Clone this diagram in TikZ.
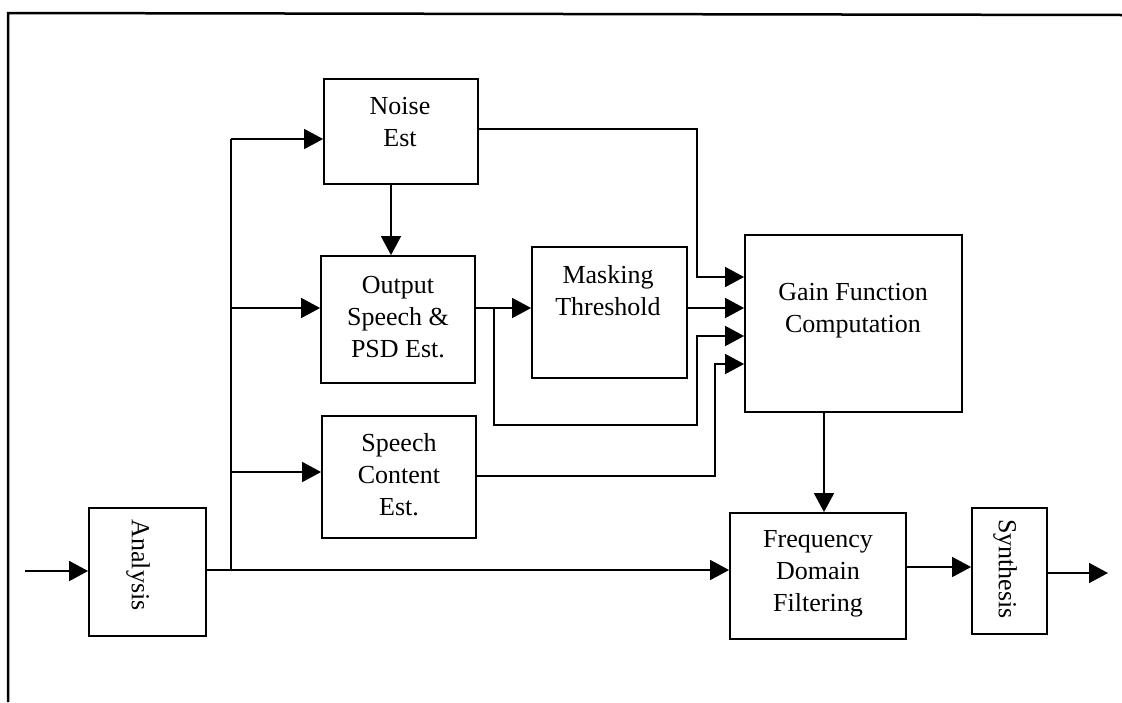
\documentclass[tikz,border=0pt]{standalone}
\usepackage{fontspec}
\setmainfont{Liberation Serif}
\usetikzlibrary{arrows.meta}
\begin{document}
\begin{tikzpicture}[x=1pt,y=-1pt,
  blk/.style 2 args={draw,line width=1.8pt,inner sep=0pt,minimum width=#1,minimum height=#2},
  lbl/.style={inner sep=0pt,align=center,anchor=north,font=\fontsize{26}{32}\selectfont},
  vlbl/.style={inner sep=0pt,rotate=-90,font=\fontsize{26}{32}\selectfont},
  ln/.style={line width=1.6pt},
  arr/.style={line width=1.6pt,-{Triangle[length=19pt,width=20pt]}}]
\useasboundingbox (0,0) rectangle (1122,702);
\draw[line width=2.5pt] (8,702) -- (8,13) -- (1122,15);
% blocks
\node[blk={154pt}{105pt}] (noise) at (401,131.5) {};
\node[lbl] (noiset) at (400,97) {Noise\\Est};
\node[blk={154pt}{127pt}] (out) at (398,319.5) {};
\node[lbl] (outt) at (398,276) {Output\\Speech \&\\PSD Est.};
\node[blk={154pt}{122pt}] (sp) at (399,477) {};
\node[lbl] (spt) at (399,433) {Speech\\Content\\Est.};
\node[blk={155pt}{131pt}] (mask) at (609.5,312.5) {};
\node[lbl] (maskt) at (608,265) {Masking\\Threshold};
\node[blk={217pt}{177pt}] (gain) at (853.5,323.5) {};
\node[lbl] (gaint) at (853,283) {Gain Function\\Computation};
\node[blk={176pt}{126pt}] (freq) at (818,576) {};
\node[lbl] (freqt) at (818,530) {Frequency\\Domain\\Filtering};
\node[blk={117pt}{128pt}] (ana) at (147.5,572) {};
\node[vlbl] (anat) at (138,565) {Analysis};
\node[blk={75pt}{126pt}] (synth) at (1009.5,571) {};
\node[vlbl] (syntht) at (1005,569) {Synthesis};
% coordinates
\coordinate (in) at (25,571);
\coordinate (busb) at (231,570);
\coordinate (bust) at (231,139);
\coordinate (bo) at (231,308);
\coordinate (bs) at (231,472);
\coordinate (y1) at (697,129);
\coordinate (y2) at (697,277);
\coordinate (l1) at (494,308);
\coordinate (l2) at (494,425);
\coordinate (l3) at (697,425);
\coordinate (l4) at (697,336);
\coordinate (s1) at (715,476);
\coordinate (s2) at (715,364);
\coordinate (gf) at (824,0);
\coordinate (fs) at (0,567);
\coordinate (o) at (1108,573);
% connectors
\draw[arr] (in) -- (in -| ana.west);
\draw[arr] (ana.east |- busb) -- (busb -| freq.west);
\draw[ln] (busb) -- (bust);
\draw[arr] (bust) -- (bust -| noise.west);
\draw[arr] (bo) -- (bo -| out.west);
\draw[arr] (bs) -- (bs -| sp.west);
\draw[arr] ([xshift=-10pt]noise.south) -- ([xshift=-10pt]noise.south |- out.north);
\draw[arr] (noise.east |- y1) -- (y1) -- (y2) -- (gain.west |- y2);
\draw[arr] (out.east |- l1) -- (mask.west |- l1);
\draw[arr] (mask.east |- l1) -- (gain.west |- l1);
\draw[arr] (l1) -- (l2) -- (l3) -- (l4) -- (gain.west |- l4);
\draw[arr] (sp.east |- s1) -- (s1) -- (s2) -- (gain.west |- s2);
\draw[arr] (gain.south -| gf) -- (freq.north -| gf);
\draw[arr] (freq.east |- fs) -- (synth.west |- fs);
\draw[arr] (synth.east |- o) -- (o);
\end{tikzpicture}
\end{document}
